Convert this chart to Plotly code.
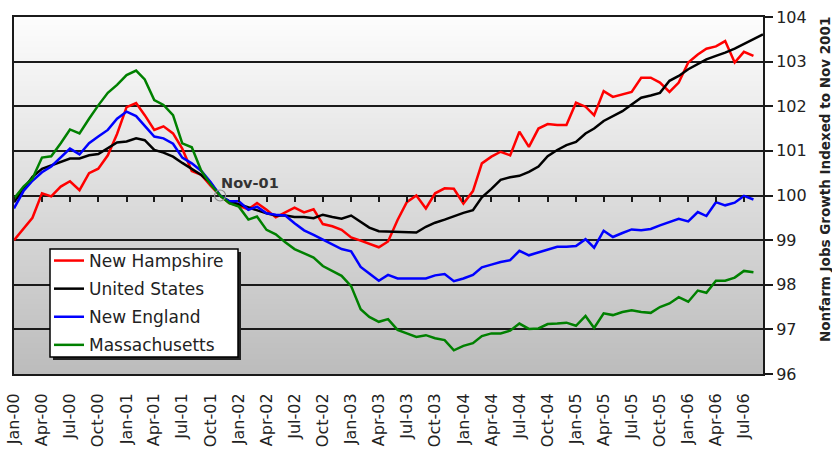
import base64
import struct
import zlib

import pandas as pd
import plotly.graph_objects as go

# Monthly index of nonfarm jobs, Nov 2001 = 100
months = pd.date_range("2000-01-01", "2006-09-01", freq="MS")
base_label = "Nov-01"

new_hampshire = [
    99.0, 99.25, 99.5, 100.05, 99.98, 100.2, 100.32, 100.12, 100.5, 100.6,
    100.9, 101.38, 101.98, 102.07, 101.8, 101.47, 101.55, 101.39, 101.05, 100.55,
    100.46, 100.22, 100.0, 99.83, 99.77, 99.69, 99.83, 99.68, 99.51, 99.62,
    99.73, 99.62, 99.69, 99.36, 99.31, 99.23, 99.06, 98.99, 98.92, 98.84,
    98.97, 99.45, 99.85, 100.0, 99.71, 100.05, 100.16, 100.15, 99.82, 100.1,
    100.72, 100.87, 100.98, 100.9, 101.43, 101.09, 101.5, 101.6, 101.58, 101.58,
    102.08, 101.99, 101.8, 102.34, 102.21, 102.27, 102.32, 102.64, 102.64, 102.53,
    102.32, 102.53, 102.98, 103.16, 103.29, 103.34, 103.46, 102.98, 103.22, 103.13,
]

united_states = [
    99.85, 100.15, 100.42, 100.6, 100.68, 100.75, 100.83, 100.83, 100.9, 100.93,
    101.06, 101.19, 101.21, 101.28, 101.24, 101.02, 100.96, 100.87, 100.73, 100.6,
    100.46, 100.28, 100.0, 99.87, 99.8, 99.73, 99.66, 99.6, 99.55, 99.55,
    99.52, 99.52, 99.49, 99.57, 99.52, 99.48, 99.55, 99.4, 99.28, 99.2,
    99.19, 99.18, 99.18, 99.17, 99.3, 99.39, 99.46, 99.54, 99.61, 99.67,
    99.96, 100.15, 100.35, 100.41, 100.44, 100.53, 100.65, 100.88, 101.02, 101.13,
    101.2, 101.39, 101.5, 101.67, 101.78, 101.89, 102.04, 102.19, 102.24, 102.3,
    102.57, 102.68, 102.83, 102.94, 103.05, 103.13, 103.2, 103.29, 103.39, 103.5,
    103.61,
]

new_england = [
    99.71, 100.1, 100.33, 100.52, 100.65, 100.85, 101.05, 100.92, 101.17, 101.32,
    101.47, 101.72, 101.88, 101.78, 101.55, 101.32, 101.28, 101.16, 100.85, 100.72,
    100.55, 100.3, 100.0, 99.87, 99.87, 99.68, 99.75, 99.6, 99.57, 99.55,
    99.38, 99.22, 99.12, 99.02, 98.91, 98.8, 98.75, 98.4, 98.25, 98.09,
    98.22, 98.14, 98.14, 98.14, 98.14, 98.21, 98.24, 98.08, 98.14, 98.22,
    98.39, 98.45, 98.51, 98.55, 98.76, 98.66, 98.72, 98.79, 98.85, 98.85,
    98.87, 99.02, 98.83, 99.21, 99.07, 99.16, 99.24, 99.22, 99.25, 99.33,
    99.4, 99.48, 99.42, 99.63, 99.54, 99.85, 99.78, 99.84, 99.99, 99.91,
]

massachusetts = [
    99.93, 100.2, 100.38, 100.85, 100.88, 101.17, 101.48, 101.39, 101.72, 102.02,
    102.3, 102.48, 102.7, 102.8, 102.6, 102.14, 102.03, 101.8, 101.17, 101.08,
    100.55, 100.25, 100.0, 99.83, 99.75, 99.46, 99.53, 99.23, 99.13, 98.95,
    98.8, 98.71, 98.61, 98.42, 98.3, 98.2, 97.97, 97.45, 97.28, 97.17,
    97.23, 96.99, 96.91, 96.83, 96.87, 96.8, 96.76, 96.53, 96.63, 96.69,
    96.85, 96.91, 96.91, 96.97, 97.13, 97.01, 97.02, 97.12, 97.13, 97.15,
    97.08, 97.3, 97.03, 97.36, 97.32, 97.39, 97.43, 97.39, 97.37, 97.5,
    97.58, 97.72, 97.62, 97.87, 97.82, 98.09, 98.09, 98.16, 98.31, 98.28,
]

series = [
    ("New Hampshire", new_hampshire, "#ff0000"),
    ("United States", united_states, "#000000"),
    ("New England", new_england, "#0000ff"),
    ("Massachusetts", massachusetts, "#008000"),
]

y_range = [96, 104]
base_value = 100
axis_color = "#1a1a1a"
text_color = "#222222"
font_family = "DejaVu Sans"

# Figure geometry (pixels)
W, H = 832, 451
M_L, M_R, M_T, M_B = 14, 69, 17, 77
PW, PH = W - M_L - M_R, H - M_T - M_B


def px_x(px):
    return (px - M_L) / PW


def px_y(py):
    return (H - M_B - py) / PH


def gradient_png(top, bottom, rows=256, cols=2):
    """Small grayscale PNG fading from `top` to `bottom` (0-255 levels)."""
    raw = b""
    for r in range(rows):
        level = round(top + (bottom - top) * r / (rows - 1))
        raw += b"\x00" + bytes([level]) * cols

    def chunk(tag, data):
        body = tag + data
        return struct.pack(">I", len(data)) + body + struct.pack(">I", zlib.crc32(body) & 0xFFFFFFFF)

    header = struct.pack(">IIBBBBB", cols, rows, 8, 0, 0, 0, 0)
    png = (b"\x89PNG\r\n\x1a\n" + chunk(b"IHDR", header)
           + chunk(b"IDAT", zlib.compress(raw)) + chunk(b"IEND", b""))
    return "data:image/png;base64," + base64.b64encode(png).decode()


fig = go.Figure()

for name, values, color in series:
    fig.add_trace(go.Scatter(
        x=months[:len(values)], y=values, name=name, mode="lines",
        line=dict(color=color, width=2.5), legendgroup=name,
    ))

# Marker at the index base month; it lives on the upper-half axes whose
# bottom edge is the base line, so that axis carries the quarter ticks there.
base_idx = [m.strftime("%b-%y") for m in months].index(base_label)
fig.add_trace(go.Scatter(
    x=[months[base_idx]], y=[united_states[base_idx]], mode="markers",
    marker=dict(symbol="circle-open", size=11, color="#8a8a8a", line=dict(width=1.2)),
    showlegend=False, hoverinfo="skip", xaxis="x2", yaxis="y2", cliponaxis=False,
))

fig.add_annotation(
    x=months[base_idx], y=united_states[base_idx], xref="x", yref="y",
    text="<b>" + base_label + "</b>", showarrow=False, xanchor="left", yanchor="middle",
    xshift=-1, yshift=13, font=dict(family=font_family, size=14.5, color="#333333"),
)

fig.add_annotation(
    x=px_x(825), y=px_y(180), xref="paper", yref="paper", textangle=-90,
    text="<b>Nonfarm Jobs Growth Indexed to Nov 2001</b>", showarrow=False,
    xanchor="center", yanchor="middle",
    font=dict(family=font_family, size=13.5, color=text_color),
)

fig.add_layout_image(dict(
    source=gradient_png(253, 188), xref="paper", yref="paper", x=0, y=1,
    sizex=1, sizey=1, sizing="stretch", xanchor="left", yanchor="top", layer="below",
))

# Legend panel with drop shadow
box_l, box_r, box_t, box_b = 50, 238, 249, 357
fig.add_shape(type="rect", xref="paper", yref="paper",
              x0=px_x(box_l + 3), x1=px_x(box_r + 3), y0=px_y(box_b + 3), y1=px_y(box_t + 3),
              fillcolor="#202020", line=dict(width=0), layer="above")
fig.add_shape(type="rect", xref="paper", yref="paper",
              x0=px_x(box_l), x1=px_x(box_r), y0=px_y(box_b), y1=px_y(box_t),
              fillcolor="white", line=dict(color="black", width=1.5), layer="above")

x_range = [months[0], months[-1]]
tick_common = dict(tick0=months[0], dtick="M3", range=x_range, type="date", automargin=False)

fig.update_layout(
    width=W, height=H,
    margin=dict(l=M_L, r=M_R, t=M_T, b=M_B),
    paper_bgcolor="white", plot_bgcolor="rgba(0,0,0,0)",
    font=dict(family=font_family, color=text_color),
    legend=dict(
        x=px_x(49), y=px_y(243), xanchor="left", yanchor="top",
        bgcolor="rgba(0,0,0,0)", borderwidth=0,
        font=dict(family=font_family, size=17, color=text_color),
        traceorder="grouped", tracegroupgap=3,
    ),
    xaxis=dict(
        **tick_common, tickformat="%b-%y", tickangle=-90, ticks="",
        tickfont=dict(size=16, color=text_color), ticklabelstandoff=11,
        showgrid=False, showline=True, mirror=True, linecolor=axis_color, linewidth=2,
        zeroline=False,
    ),
    xaxis2=dict(
        **tick_common, anchor="y2",
        ticks="outside", ticklen=5, tickwidth=1.5, tickcolor=axis_color,
        showticklabels=False, showgrid=False, showline=False, zeroline=False,
    ),
    yaxis=dict(
        range=y_range, dtick=1, side="right", automargin=False,
        showgrid=True, gridcolor=axis_color, gridwidth=1.5,
        ticks="outside", ticklen=8, tickwidth=1.5, tickcolor=axis_color,
        showline=True, mirror=True, linecolor=axis_color, linewidth=2,
        tickfont=dict(size=16, color=text_color), zeroline=False,
    ),
    yaxis2=dict(
        domain=[(base_value - y_range[0]) / (y_range[1] - y_range[0]), 1],
        range=[base_value, y_range[1]], anchor="x2", automargin=False,
        showgrid=False, showline=False, showticklabels=False, ticks="", zeroline=False,
    ),
)

fig.write_html("out.html")
